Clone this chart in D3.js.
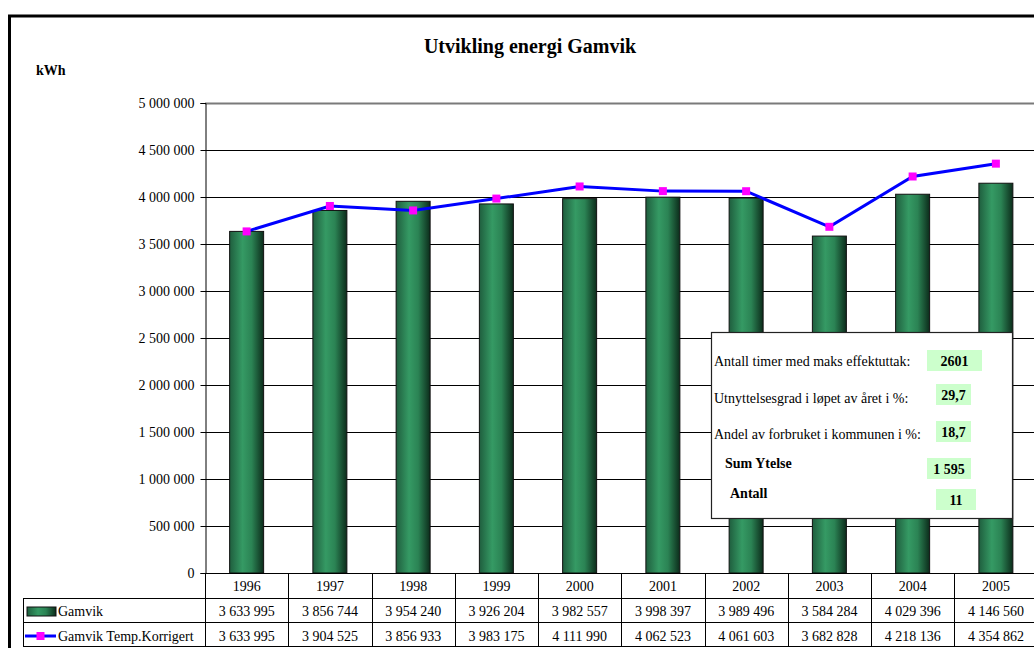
<!DOCTYPE html>
<html>
<head>
<meta charset="utf-8">
<script src="https://cdn.jsdelivr.net/npm/d3@7/dist/d3.min.js"></script>
<style>
  html, body { margin: 0; padding: 0; background: #fff; }
  svg { display: block; font-family: "Liberation Serif", "Times New Roman", serif; }
</style>
</head>
<body>
<svg id="chart" width="1034" height="648"></svg>
<script>
// Energy use in Gamvik, 1996–2005
const years = ["1996", "1997", "1998", "1999", "2000", "2001", "2002", "2003", "2004", "2005"];
const gamvik = [3633995, 3856744, 3954240, 3926204, 3982557, 3998397, 3989496, 3584284, 4029396, 4146560];
const gamvikTemp = [3633995, 3904525, 3856933, 3983175, 4111990, 4062523, 4061603, 3682828, 4218136, 4354862];
const yTicks = [0, 500000, 1000000, 1500000, 2000000, 2500000, 3000000, 3500000, 4000000, 4500000, 5000000];
const seriesNames = ["Gamvik", "Gamvik Temp.Korrigert"];

// Key figures shown in the info box
const infoLabels = ["Antall timer med maks effektuttak:", "Utnyttelsesgrad i løpet av året i %:", "Andel av forbruket i kommunen i %:", "Sum Ytelse", "Antall"];
const infoValues = ["2601", "29,7", "18,7", "1 595", "11"];

const svg = d3.select("#chart");
const nb = d3.formatLocale({ decimal: ",", thousands: " ", grouping: [3], currency: ["", ""] });
const fmt = nb.format(",d");

const plot = { left: 205, right: 1037.5, top: 103, bottom: 573 };
const x = d3.scaleBand().domain(years).range([plot.left, plot.right]).paddingInner(0).paddingOuter(0);
const y = d3.scaleLinear().domain([0, 5000000]).range([plot.bottom, plot.top]);
const barW = 34;

// Bar gradient: dark edges, lighter band just left of centre
const defs = svg.append("defs");
const grad = defs.append("linearGradient").attr("id", "barGrad").attr("x1", "0").attr("x2", "1").attr("y1", "0").attr("y2", "0");
grad.append("stop").attr("offset", "0%").attr("stop-color", "#1f5e3e");
grad.append("stop").attr("offset", "38%").attr("stop-color", "#359a64");
grad.append("stop").attr("offset", "65%").attr("stop-color", "#2b8354");
grad.append("stop").attr("offset", "100%").attr("stop-color", "#0c2c1b");

// Outer frame (extends beyond the visible area on right and bottom)
svg.append("rect").attr("x", 9.5).attr("y", 16).attr("width", 1100).attr("height", 700)
  .attr("fill", "none").attr("stroke", "#000").attr("stroke-width", 3);

// Title and unit
svg.append("text").attr("x", 530).attr("y", 53).attr("text-anchor", "middle")
  .attr("font-size", 20).attr("font-weight", "bold").text("Utvikling energi Gamvik");
svg.append("text").attr("x", 36).attr("y", 75).attr("font-size", 14).attr("font-weight", "bold").text("kWh");

// Gridlines
svg.append("g").selectAll("line").data(yTicks.filter(d => d > 0)).join("line")
  .attr("x1", plot.left).attr("x2", 1034)
  .attr("y1", d => Math.round(y(d)) + 0.5).attr("y2", d => Math.round(y(d)) + 0.5)
  .attr("stroke", d => d === 5000000 ? "#7a7a7a" : "#000")
  .attr("stroke-width", d => d === 5000000 ? 2 : 1);

// Y axis
const yAxis = svg.append("g").attr("transform", `translate(${plot.left + 0.5},0)`)
  .call(d3.axisLeft(y).tickValues(yTicks).tickFormat(fmt).tickSize(5).tickPadding(6));
yAxis.select(".domain").attr("stroke", "#000");
yAxis.selectAll(".tick line").attr("stroke", "#000");
yAxis.selectAll(".tick text").attr("font-size", 14).attr("font-family", "Liberation Serif, Times New Roman, serif").attr("fill", "#000");

// Bars
svg.append("g").selectAll("rect").data(years).join("rect")
  .attr("x", (d) => x(d) + x.bandwidth() / 2 - barW / 2)
  .attr("y", (d, i) => y(gamvik[i]))
  .attr("width", barW)
  .attr("height", (d, i) => y(0) - y(gamvik[i]))
  .attr("fill", "url(#barGrad)").attr("stroke", "#111").attr("stroke-width", 1);

// Temperature-corrected line
const line = d3.line().x((d, i) => x(years[i]) + x.bandwidth() / 2).y(d => y(d));
svg.append("path").datum(gamvikTemp).attr("d", line)
  .attr("fill", "none").attr("stroke", "#0000ff").attr("stroke-width", 3);
svg.append("g").selectAll("rect").data(gamvikTemp).join("rect")
  .attr("x", (d, i) => x(years[i]) + x.bandwidth() / 2 - 4)
  .attr("y", d => y(d) - 4)
  .attr("width", 8).attr("height", 8).attr("fill", "#ff00ff");

// X axis line
svg.append("line").attr("x1", plot.left).attr("x2", 1034).attr("y1", plot.bottom + 0.5).attr("y2", plot.bottom + 0.5).attr("stroke", "#000");

// Data table
const tbl = svg.append("g").attr("font-size", 14);
tbl.selectAll("line.h").data([598, 622, 646]).join("line")
  .attr("x1", 23).attr("x2", 1034).attr("y1", d => d + 0.5).attr("y2", d => d + 0.5).attr("stroke", "#000");
tbl.selectAll("line.v").data(years.map(d => x(d)).concat([plot.right])).join("line")
  .attr("x1", d => Math.round(d) + 0.5).attr("x2", d => Math.round(d) + 0.5)
  .attr("y1", plot.bottom).attr("y2", 646).attr("stroke", "#000");
tbl.append("line").attr("x1", 23.5).attr("x2", 23.5).attr("y1", 598).attr("y2", 646).attr("stroke", "#000");

tbl.selectAll("text.yr").data(years).join("text")
  .attr("x", d => x(d) + x.bandwidth() / 2).attr("y", 591).attr("text-anchor", "middle").text(d => d);
tbl.selectAll("text.g").data(gamvik).join("text")
  .attr("x", (d, i) => x(years[i]) + x.bandwidth() / 2).attr("y", 616).attr("text-anchor", "middle").text(d => fmt(d));
tbl.selectAll("text.t").data(gamvikTemp).join("text")
  .attr("x", (d, i) => x(years[i]) + x.bandwidth() / 2).attr("y", 641).attr("text-anchor", "middle").text(d => fmt(d));

// Legend keys inside the table
tbl.append("rect").attr("x", 27).attr("y", 607).attr("width", 29).attr("height", 9)
  .attr("fill", "url(#barGrad)").attr("stroke", "#111");
tbl.append("text").attr("x", 58).attr("y", 616).text(seriesNames[0]);
tbl.append("line").attr("x1", 25).attr("x2", 56).attr("y1", 636).attr("y2", 636).attr("stroke", "#0000ff").attr("stroke-width", 3);
tbl.append("rect").attr("x", 36.5).attr("y", 632).attr("width", 8).attr("height", 8).attr("fill", "#ff00ff");
tbl.append("text").attr("x", 58).attr("y", 641).text(seriesNames[1]);

// Info box
const info = svg.append("g").attr("font-size", 14);
info.append("rect").attr("x", 711.5).attr("y", 332.5).attr("width", 301).attr("height", 186)
  .attr("fill", "#fff").attr("stroke", "#222").attr("stroke-width", 1.2);
const labelX = [714, 714, 714, 725, 730];
const labelBold = [false, false, false, true, true];
const baseY = [365.5, 402.5, 439, 468, 498];
const boxes = [[927, 350, 55, 21], [936, 384, 35, 21], [936, 421, 35, 21], [927, 458, 44, 21], [936, 489, 40, 21]];
info.selectAll("text.lbl").data(infoLabels).join("text")
  .attr("x", (d, i) => labelX[i]).attr("y", (d, i) => baseY[i])
  .attr("font-weight", (d, i) => labelBold[i] ? "bold" : "normal").text(d => d);
info.selectAll("rect.val").data(infoValues).join("rect")
  .attr("x", (d, i) => boxes[i][0]).attr("y", (d, i) => boxes[i][1])
  .attr("width", (d, i) => boxes[i][2]).attr("height", (d, i) => boxes[i][3]).attr("fill", "#ccffcc");
info.selectAll("text.val").data(infoValues).join("text")
  .attr("x", (d, i) => boxes[i][0] + boxes[i][2] / 2).attr("y", (d, i) => boxes[i][1] + 15.5)
  .attr("text-anchor", "middle").attr("font-weight", "bold").text(d => d);
</script>
</body>
</html>
